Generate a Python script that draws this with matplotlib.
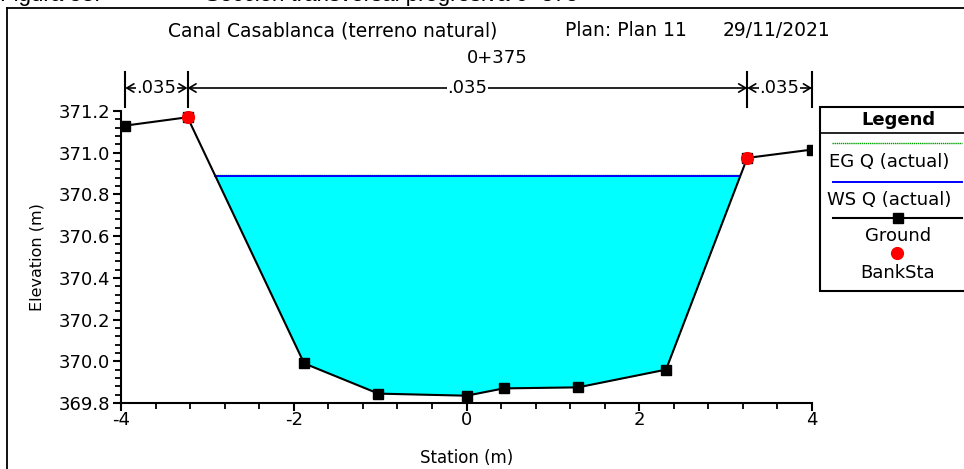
import numpy as np
import matplotlib
matplotlib.use("Agg")
import matplotlib.pyplot as plt
from matplotlib.lines import Line2D
from matplotlib.patches import Rectangle, FancyArrowPatch
from matplotlib.ticker import MultipleLocator, FormatStrFormatter, FuncFormatter
import matplotlib.transforms as mtransforms

plt.rcParams['font.family'] = ['DejaVu Sans']

# Cross-section data (station in m, elevation in m)
station = [-3.95, -3.23, -1.88, -1.02, 0.00, 0.43, 1.29, 2.31, 3.25, 4.00]
ground = [371.13, 371.17, 369.99, 369.845, 369.835, 369.87, 369.875, 369.96, 370.975, 371.015]
bank_station = [-3.23, 3.25]
bank_elev = [371.17, 370.975]
ws_elev = 370.89
eg_elev = 370.893
n_bounds = [-3.95, -3.23, 3.25, 4.00]
n_values = [".035", ".035", ".035"]

title_left = "Canal Casablanca (terreno natural)"
title_mid = "Plan: Plan 11"
title_right = "29/11/2021"
river_station = "0+375"
caption_num = "Figura 58:"
caption_text = "Sección transversal progresiva 0+375"

W, H = 964, 469
fig = plt.figure(figsize=(W / 100, H / 100), dpi=100)


def fx(px):
    return px / W


def fy(py):
    return 1 - py / H


ax = fig.add_axes([fx(121), fy(403), fx(812) - fx(121), fy(111) - fy(403)])

x = np.array(station)
z = np.array(ground)

# Water area between ground and water surface
ax.fill_between(x, z, ws_elev, where=z < ws_elev, interpolate=True,
                color="#00FFFF", linewidth=0, zorder=1)


def crossings(xs, zs, level):
    pts = []
    for i in range(len(xs) - 1):
        a, b = zs[i] - level, zs[i + 1] - level
        if a * b < 0:
            t = a / (a - b)
            pts.append(xs[i] + t * (xs[i + 1] - xs[i]))
    return pts


cx = crossings(x, z, ws_elev)
ax.plot([cx[0], cx[-1]], [eg_elev, eg_elev], color="#00A000", lw=1.0,
        ls=(0, (1, 0.5)), zorder=2)
ax.plot([cx[0], cx[-1]], [ws_elev, ws_elev], color="#0000FF", lw=1.4, zorder=3)

ax.plot(x, z, color="black", lw=1.5, marker="s", ms=6.5, zorder=4)
ax.plot(bank_station, bank_elev, ls="none", marker="o", color="#FF0000",
        ms=8.5, zorder=5)

ax.set_xlim(-4, 4)
ax.set_ylim(369.8, 371.2)
ax.xaxis.set_major_locator(MultipleLocator(2))
ax.xaxis.set_minor_locator(MultipleLocator(0.4))
ax.yaxis.set_major_locator(MultipleLocator(0.2))
ax.yaxis.set_minor_locator(MultipleLocator(0.04))
ax.yaxis.set_major_formatter(FormatStrFormatter("%.1f"))
ax.xaxis.set_major_formatter(FuncFormatter(lambda v, p: f"{v:.0f}"))

for s in ("top", "right"):
    ax.spines[s].set_visible(False)
for s in ("left", "bottom"):
    ax.spines[s].set_linewidth(1.5)

ax.tick_params(which="major", direction="out", length=6, width=1.5,
               labelsize=13, pad=2)
ax.tick_params(which="minor", direction="out", length=4, width=1.3)
ax.tick_params(axis="x", pad=0)

ax.set_xlabel("Station (m)", fontsize=12, labelpad=14)
ax.set_ylabel("Elevation (m)", fontsize=11.5, labelpad=10)

# Manning's n boundaries above the plot
trans = mtransforms.blended_transform_factory(ax.transData, fig.transFigure)
y_line = fy(88)
for b in n_bounds:
    fig.add_artist(Line2D([b, b], [fy(72), fy(107)], transform=trans,
                          color="black", lw=1.5))
for i, nv in enumerate(n_values):
    x0, x1 = n_bounds[i], n_bounds[i + 1]
    xm = (x0 + x1) / 2
    for xe in (x0, x1):
        fig.add_artist(FancyArrowPatch(
            (xm, y_line), (xe, y_line), transform=trans,
            arrowstyle="->,head_length=5,head_width=3", color="black",
            lw=1.2, shrinkA=0, shrinkB=0, mutation_scale=1))
    fig.text(xm, y_line, nv, transform=trans, ha="center", va="center",
             fontsize=13,
             bbox=dict(facecolor="white", edgecolor="none", pad=0.5))

# Titles
fig.text(fx(333), fy(31), title_left, ha="center", va="center", fontsize=13.5)
fig.text(fx(626), fy(31), title_mid, ha="center", va="center", fontsize=13.5)
fig.text(fx(776), fy(31), title_right, ha="center", va="center", fontsize=13.5)
fig.text(fx(497), fy(58), river_station, ha="center", va="center", fontsize=13)

# Caption, running off the top edge
fig.text(fx(0), fy(1), caption_num, ha="left", va="baseline", fontsize=16,
         family="Liberation Sans")
fig.text(fx(205), fy(1), caption_text, ha="left", va="baseline", fontsize=16,
         family="Liberation Sans")

# Outer frame
fig.add_artist(Line2D([fx(7), fx(7)], [fy(8), 0], color="black", lw=1.3))
fig.add_artist(Line2D([fx(7), 1], [fy(8), fy(8)], color="black", lw=1.3))

# Legend box
fig.add_artist(Rectangle((fx(820), fy(291)), fx(200), fy(107) - fy(291),
                         transform=fig.transFigure, facecolor="white",
                         edgecolor="black", lw=1.5, zorder=6))
fig.add_artist(Line2D([fx(820), 1], [fy(133), fy(133)], color="black",
                      lw=1.2, zorder=7))
fig.text(fx(898), fy(120), "Legend", ha="center", va="center",
         fontsize=13, fontweight="bold", zorder=8)
fig.add_artist(Line2D([fx(832), fx(962)], [fy(143), fy(143)], color="#00A000",
                      lw=1.0, ls=(0, (1, 0.5)), zorder=8))
fig.text(fx(829), fy(162), "EG Q (actual)", ha="left", va="center",
         fontsize=13, zorder=8)
fig.add_artist(Line2D([fx(833), fx(962)], [fy(182), fy(182)], color="#0000FF",
                      lw=1.4, zorder=8))
fig.text(fx(827), fy(200), "WS Q (actual)", ha="left", va="center",
         fontsize=13, zorder=8)
fig.add_artist(Line2D([fx(833), fx(962)], [fy(218), fy(218)], color="black",
                      lw=1.5, zorder=8))
fig.add_artist(Line2D([fx(898)], [fy(218)], color="black", marker="s", ms=6.5,
                      ls="none", zorder=9))
fig.text(fx(898), fy(236), "Ground", ha="center", va="center",
         fontsize=13, zorder=8)
fig.add_artist(Line2D([fx(897)], [fy(253)], color="#FF0000", marker="o",
                      ms=8.5, ls="none", zorder=9))
fig.text(fx(898), fy(273), "BankSta", ha="center", va="center",
         fontsize=13, zorder=8)

fig.savefig("out.png", dpi=100)
